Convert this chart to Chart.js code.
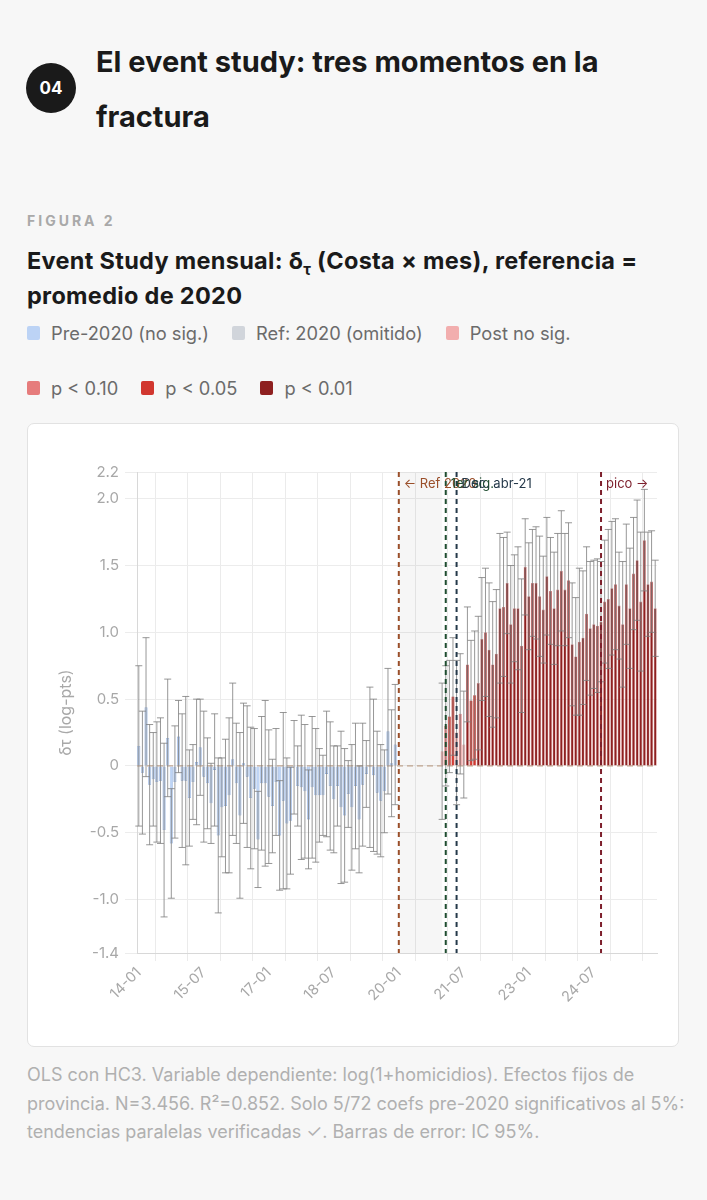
<!DOCTYPE html>
<html lang="es">
<head>
<meta charset="utf-8">
<title>Event study</title>
<script src="https://cdn.jsdelivr.net/npm/chart.js@4.4.1/dist/chart.umd.min.js"></script>
<style>
  body { margin: 0; background: #f7f7f7; font-family: Inter, "Noto Sans", sans-serif; color: #1a1a1a; }
  .page { position: relative; width: 707px; height: 1200px; overflow: hidden; }
  .badge { position: absolute; left: 26px; top: 63px; width: 50px; height: 50px; border-radius: 50%;
           background: #1a1a1a; color: #fff; font-weight: 700; font-size: 17px;
           display: flex; align-items: center; justify-content: center; }
  h1 { position: absolute; left: 96px; top: 34px; width: 600px; margin: 0; font-size: 29px; line-height: 55px; font-weight: 700; }
  .fig { position: absolute; left: 27px; top: 211px; font-size: 14px; font-weight: 700; letter-spacing: 3px; color: #a9a9a9; line-height: 20px; }
  h2 { position: absolute; left: 27px; top: 243px; width: 660px; margin: 0; font-size: 23.5px; line-height: 35px; font-weight: 700; letter-spacing: 0.3px; white-space: nowrap; }
  h2 sub { font-size: 15px; line-height: 0; }
  .legend { position: absolute; left: 27px; top: 321px; width: 660px; }
  .fila { display: flex; column-gap: 23px; height: 24px; margin-bottom: 31px; }
  .fila span { display: flex; align-items: center; font-size: 18.3px; line-height: 24px; color: #6b6b6b; white-space: nowrap; }
  .fila i { width: 13px; height: 14px; border-radius: 2px; margin-right: 11px; }
  .card { position: absolute; left: 27px; top: 423px; width: 650px; height: 622px; background: #fff;
          border: 1px solid #e2e2e2; border-radius: 7px; }
  .card canvas { position: absolute; left: 0; top: 0; }
  .note { position: absolute; left: 27px; top: 1061px; width: 670px; font-size: 18px; line-height: 28.5px; color: #b0b0b0; white-space: nowrap; }
</style>
</head>
<body>
<div class="page">
  <div class="badge">04</div>
  <h1>El event study: tres momentos en la<br>fractura</h1>
  <div class="fig">FIGURA 2</div>
  <h2>Event Study mensual: δ<sub>τ</sub> (Costa × mes), referencia =<br>promedio de 2020</h2>
  <div class="legend" id="leyenda"></div>
  <div class="card"><canvas id="grafico" width="650" height="622"></canvas></div>
  <div class="note">OLS con HC3. Variable dependiente: log(1+homicidios). Efectos fijos de<br>provincia. N=3.456. R²=0.852. Solo 5/72 coefs pre-2020 significativos al 5%:<br>tendencias paralelas verificadas ✓. Barras de error: IC 95%.</div>
</div>
<script>
// meses 14-01 ... 25-12
const anios = ['14', '15', '16', '17', '18', '19', '20', '21', '22', '23', '24', '25'];
const meses = ['01', '02', '03', '04', '05', '06', '07', '08', '09', '10', '11', '12'];

// coeficientes pre-2020 (14-01 a 19-12) y semiancho del IC 95%
const coefPre = [0.15, -0.05, 0.44, -0.14, -0.10, -0.12, -0.11, -0.48, 0.21, -0.58,
  -0.12, 0.22, -0.11, -0.11, -0.24, -0.12, 0.03, 0.14, -0.08, -0.13,
  -0.28, -0.03, -0.52, -0.31, -0.30, -0.22, 0.05, -0.13, -0.37, 0.02,
  -0.08, -0.24, -0.17, -0.55, -0.13, -0.13, -0.23, -0.30, -0.12, -0.52,
  -0.26, -0.43, -0.41, -0.01, -0.15, -0.16, -0.19, -0.40, -0.16, -0.22,
  -0.22, -0.22, -0.06, -0.15, -0.25, -0.15, -0.31, -0.37, -0.21, -0.31,
  -0.15, -0.40, -0.14, -0.06, -0.01, -0.07, -0.20, -0.26, -0.19, 0.26,
  0.02, 0.16];
const icPre = [0.60, 0.46, 0.52, 0.45, 0.35, 0.45, 0.47, 0.65, 0.44, 0.41,
  0.42, 0.27, 0.50, 0.63, 0.36, 0.28, 0.47, 0.36, 0.49, 0.34,
  0.30, 0.42, 0.58, 0.37, 0.50, 0.58, 0.57, 0.45, 0.62, 0.45,
  0.53, 0.53, 0.45, 0.36, 0.50, 0.62, 0.50, 0.35, 0.40, 0.41,
  0.66, 0.49, 0.40, 0.35, 0.30, 0.54, 0.50, 0.37, 0.53, 0.50,
  0.35, 0.30, 0.47, 0.48, 0.40, 0.30, 0.57, 0.50, 0.25, 0.47,
  0.47, 0.40, 0.46, 0.25, 0.60, 0.57, 0.46, 0.42, 0.31, 0.47,
  0.40, 0.45];

// 2020 = referencia (omitido)
const mesesRef = 12;

// coeficientes post (21-01 a 25-12)
const coefPost = [0.11, 0.30, 0.37, 0.52, 0.25, 0.39, 0.16, 0.76, 0.49, 0.53, 0.62, 0.95, 1.00, 0.87, 0.76, 0.84,
  1.18, 1.19, 1.37, 1.06, 1.18, 1.18, 0.90, 1.49, 1.27, 1.37, 1.37, 1.27, 1.17, 1.42, 1.31, 1.18, 1.32, 1.46, 1.32, 1.39,
  0.91, 0.82, 0.93, 0.96, 1.14, 1.03, 1.06, 1.05, 1.08, 1.23, 1.25, 1.33, 1.36, 1.20, 1.06, 1.36, 1.18, 1.44, 1.54, 1.23,
  1.69, 1.36, 1.38, 1.18];
const icPost = [0.51, 0.45, 0.42, 0.44, 0.54, 0.45, 0.40, 0.43, 0.45, 0.48, 0.50, 0.46, 0.48, 0.50, 0.47, 0.48,
  0.56, 0.52, 0.38, 0.44, 0.40, 0.46, 0.50, 0.36, 0.40, 0.40, 0.42, 0.45, 0.40, 0.44, 0.40, 0.42, 0.42, 0.45, 0.42, 0.43,
  0.46, 0.44, 0.55, 0.50, 0.50, 0.50, 0.48, 0.50, 0.45, 0.46, 0.52, 0.50, 0.49, 0.40, 0.47, 0.45, 0.45, 0.42, 0.45, 0.52,
  0.38, 0.39, 0.38, 0.36];
const sigPost = ['ns', 'p10', 'p05', 'p05', 'ns', 'p10', 'ns', 'p01', 'p05', 'p05',
  'p01', 'p01', 'p01', 'p01', 'p01', 'p01', 'p01', 'p01', 'p01', 'p01',
  'p01', 'p01', 'p01', 'p01', 'p01', 'p01', 'p01', 'p01', 'p01', 'p01',
  'p01', 'p01', 'p01', 'p01', 'p01', 'p01', 'p01', 'p01', 'p01', 'p01',
  'p01', 'p01', 'p01', 'p01', 'p01', 'p01', 'p01', 'p01', 'p01', 'p01',
  'p01', 'p01', 'p01', 'p01', 'p01', 'p01', 'p01', 'p01', 'p01', 'p01'];

const ticksY = [-1.4, -1.0, -0.5, 0, 0.5, 1.0, 1.5, 2.0, 2.2];

// líneas verticales de eventos
const eventosMes = ['20-01', '21-02', '21-05', '24-09'];
const eventosTexto = ['← Ref 2020', '1er sig.', 'Dec. abr-21', 'pico →'];
const eventosColor = ['#9a4f2a', '#1f4d30', '#25394a', '#7d1f2c'];

// leyenda (dos filas)
const leyendaTexto = [['Pre-2020 (no sig.)', 'Ref: 2020 (omitido)', 'Post no sig.'], ['p < 0.10', 'p < 0.05', 'p < 0.01']];
const leyendaClave = [['pre', 'ref', 'ns'], ['p10', 'p05', 'p01']];

const relleno = { pre: '#bcd3f5', ref: '#d1d5db', ns: '#f2aeae', p10: '#e67c7c', p05: '#d1372f', p01: '#8e2020' };
const borde = { pre: '#7d9fd6', ref: '#b5b9c0', ns: '#e79595', p10: '#d86464', p05: '#b52a22', p01: '#d88a8a' };

const etiquetas = [];
anios.forEach(a => meses.forEach(m => etiquetas.push(a + '-' + m)));

const coef = [...coefPre, ...Array(mesesRef).fill(null), ...coefPost];
const ic = [...icPre, ...Array(mesesRef).fill(null), ...icPost];
const sig = [...coefPre.map(() => 'pre'), ...Array(mesesRef).fill('ref'), ...sigPost];

// leyenda html
const ley = document.getElementById('leyenda');
leyendaTexto.forEach((fila, f) => {
  const div = document.createElement('div');
  div.className = 'fila';
  fila.forEach((t, i) => {
    const s = document.createElement('span');
    s.innerHTML = '<i style="background:' + relleno[leyendaClave[f][i]] + '"></i>' + t;
    div.appendChild(s);
  });
  ley.appendChild(div);
});

const inicioRef = etiquetas.indexOf('20-01');
const finRef = etiquetas.indexOf('21-01');

// sombreado 2020, línea cero, barras de error y eventos
const marcas = {
  id: 'marcas',
  beforeDatasetsDraw(chart) {
    const { ctx, chartArea: a, scales: { x, y } } = chart;
    ctx.save();
    ctx.fillStyle = 'rgba(0,0,0,0.035)';
    const x0 = x.getPixelForValue(inicioRef);
    const x1 = x.getPixelForValue(finRef);
    ctx.fillRect(x0, a.top, x1 - x0, a.bottom - a.top);
    ctx.strokeStyle = '#bfa48e';
    ctx.lineWidth = 1.3;
    ctx.setLineDash([6, 4]);
    ctx.beginPath();
    ctx.moveTo(a.left, y.getPixelForValue(0));
    ctx.lineTo(a.right, y.getPixelForValue(0));
    ctx.stroke();
    ctx.restore();
  },
  afterDatasetsDraw(chart) {
    const { ctx, chartArea: a, scales: { x, y } } = chart;
    ctx.save();
    ctx.strokeStyle = 'rgba(125,125,125,0.8)';
    ctx.lineWidth = 1;
    coef.forEach((v, i) => {
      if (v === null) return;
      const px = x.getPixelForValue(i);
      const hi = y.getPixelForValue(v + ic[i]);
      const lo = y.getPixelForValue(v - ic[i]);
      ctx.beginPath();
      ctx.moveTo(px, hi); ctx.lineTo(px, lo);
      ctx.moveTo(px - 3.5, hi); ctx.lineTo(px + 3.5, hi);
      ctx.moveTo(px - 3.5, lo); ctx.lineTo(px + 3.5, lo);
      ctx.stroke();
    });
    ctx.lineWidth = 2;
    ctx.setLineDash([5, 4]);
    eventosMes.forEach((m, k) => {
      const px = x.getPixelForValue(etiquetas.indexOf(m));
      ctx.strokeStyle = eventosColor[k];
      ctx.beginPath();
      ctx.moveTo(px, a.top); ctx.lineTo(px, a.bottom);
      ctx.stroke();
    });
    ctx.setLineDash([]);
    ctx.font = '13px Inter, sans-serif';
    ctx.textBaseline = 'middle';
    ctx.textAlign = 'left';
    eventosMes.forEach((m, k) => {
      const px = x.getPixelForValue(etiquetas.indexOf(m));
      ctx.fillStyle = eventosColor[k];
      ctx.fillText(eventosTexto[k], px + 5, a.top + 12);
    });
    ctx.restore();
  }
};

const gris = '#a8a8a8';
new Chart(document.getElementById('grafico'), {
  type: 'bar',
  data: {
    labels: etiquetas,
    datasets: [{
      data: coef,
      backgroundColor: sig.map(s => relleno[s]),
      borderColor: sig.map(s => borde[s]),
      borderWidth: 0.6,
      barPercentage: 0.85,
      categoryPercentage: 1
    }]
  },
  options: {
    responsive: false,
    animation: false,
    layout: { padding: { left: 25, right: 21, top: 48, bottom: 0 } },
    plugins: { legend: { display: false }, tooltip: { enabled: false } },
    scales: {
      x: {
        grid: {
          offset: true,
          tickLength: 8,
          color: c => (c.index % 9 === 5 ? '#ebebeb' : 'rgba(0,0,0,0)')
        },
        border: { color: '#d8d8d8' },
        ticks: {
          autoSkip: false,
          maxRotation: 45,
          minRotation: 45,
          color: gris,
          font: { family: 'Inter', size: 14.5 },
          callback: (v, i) => (i % 18 === 0 ? etiquetas[i] : '')
        },
        afterFit: s => { s.height = 93; }
      },
      y: {
        min: -1.4,
        max: 2.2,
        afterBuildTicks: s => { s.ticks = ticksY.map(v => ({ value: v })); },
        grid: { color: '#ececec', tickLength: 12 },
        border: { color: '#d8d8d8' },
        ticks: {
          padding: 6,
          color: gris,
          font: { family: 'Inter', size: 15 },
          callback: v => (v === 0 ? '0' : v.toFixed(1))
        },
        title: { display: true, text: 'δτ (log-pts)', color: gris, font: { family: 'Inter', size: 16 } },
        afterFit: s => { s.width = 84; }
      }
    }
  },
  plugins: [marcas]
});
</script>
</body>
</html>
